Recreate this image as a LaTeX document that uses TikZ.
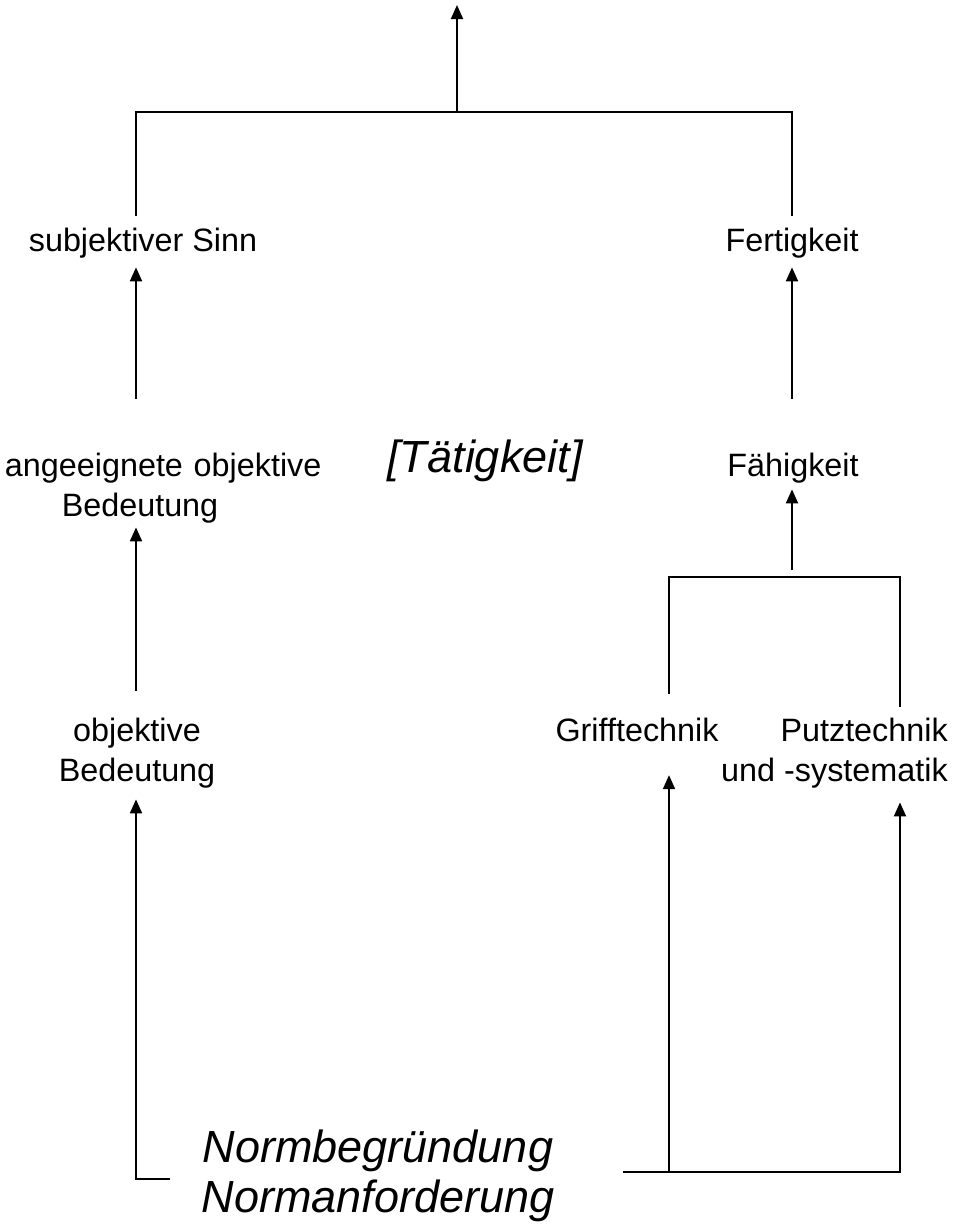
\documentclass[tikz,border=0pt]{standalone}
\usepackage{fontspec}
\setmainfont{Liberation Sans}
\usetikzlibrary{arrows.meta, positioning, calc}

\begin{document}
\begin{tikzpicture}[
    x=0.025cm, y=-0.025cm,
    term/.style={inner sep=0pt, align=center, font=\fontsize{23}{28.5}\selectfont},
    kern/.style={inner sep=0pt, align=center, font=\fontsize{32}{36}\selectfont\itshape},
    line/.style={draw, line width=1.4pt},
    arr/.style={line, -{Triangle[width=0.3cm, length=0.35cm]}}
]
    \useasboundingbox (0,0) rectangle (959,1224);

    \node [term] (sinn) at (143,243) {subjektiver Sinn};
    \node [term] (fert) at (792,243) {Fertigkeit};
    \node [term, text width=6.75cm] (aneig) at (140,488) {\mbox{angeeignete objektive}\\Bedeutung};
    \node [kern] (taet) at (485,461) {[Tätigkeit]};
    \node [term] (faeh) at (793,468) {Fähigkeit};
    \node [term] (objb) at (137,753) {objektive\\Bedeutung};
    \node [term] (griff) at (637,730) {Grifftechnik};
    \node [term, anchor=east, align=right] (putz) at (948,753) {Putztechnik\\und -systematik};
    \node [kern] (norm) at (378,1176) {Normbegründung\\Normanforderung};

    \coordinate (lcol) at (136,0);
    \coordinate (top) at (457,112);
    \coordinate (out) at (457,5);
    \coordinate (fork) at (792,577);
    \coordinate (gcol) at ([xshift=0.8cm]griff.south);
    \coordinate (rbase) at ([shift={(1.7cm,0.1cm)}]norm.east);

    % upper part
    \draw [line, shorten <=0.3cm, shorten >=0.3cm] (lcol |- sinn.north) |- (top) -| (fert.north);
    \draw [arr] (top) -- (out);
    \draw [arr, shorten <=1.35cm, shorten >=0.225cm] (lcol |- aneig.north) -- (lcol |- sinn.south);
    \draw [arr, shorten <=1.35cm, shorten >=0.225cm] (fert.south |- faeh.north) -- (fert.south);
    \draw [arr, shorten <=0.675cm, shorten >=0.1cm] (lcol |- objb.north) -- (lcol |- aneig.south);

    % fork under Fähigkeit
    \draw [line, shorten <=0.6cm, shorten >=0.275cm] (gcol |- griff.north) |- (fork) -| ([xshift=-1.2cm]putz.north east);
    \draw [arr, shorten <=0.175cm, shorten >=0.15cm] (fork) -- (fork |- faeh.south);

    % norm lines
    \draw [arr, shorten >=0.275cm] ([shift={(-0.775cm,-0.075cm)}]norm.west) -| (lcol |- objb.south);
    \draw [arr, shorten >=0.35cm] (rbase) -| ([xshift=-1.2cm]putz.south east);
    \draw [arr, shorten >=0.825cm] (gcol |- rbase) -- (gcol);

\end{tikzpicture}
\end{document}
